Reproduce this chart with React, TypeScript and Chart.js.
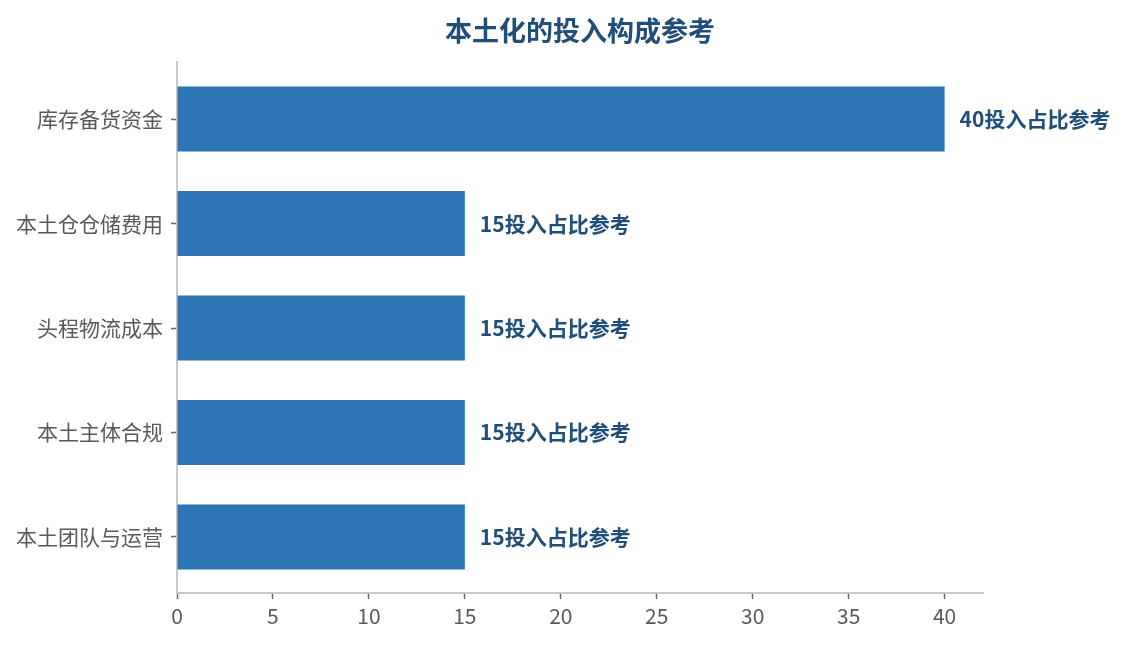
import { Chart, registerables, ChartItem, Plugin } from "chart.js";
import { useEffect, useRef } from "react";

Chart.register(...registerables);

const TITLE = "本土化的投入构成参考";
const categories = ["库存备货资金", "本土仓仓储费用", "头程物流成本", "本土主体合规", "本土团队与运营"];
const shares = [40, 15, 15, 15, 15];
const labelSuffix = "投入占比参考";

const FONT = "'Noto Sans CJK SC', 'Noto Sans', sans-serif";
const DARK_BLUE = "#1f4e79";

// title over the plot area + value labels after each bar
const labelsPlugin: Plugin<"bar"> = {
  id: "barLabels",
  afterLayout(chart) {
    // the reference leaves a few pixels between the axis ends and the outer bands
    const y: any = chart.scales.y;
    y._startPixel = y.top + 4.8;
    y._endPixel = y.bottom - 3.8;
    y._length = y._endPixel - y._startPixel;
  },
  afterDatasetsDraw(chart) {
    const ctx = chart.ctx;
    const meta = chart.getDatasetMeta(0);
    ctx.save();
    ctx.fillStyle = DARK_BLUE;
    ctx.font = `bold 21px ${FONT}`;
    ctx.textAlign = "left";
    ctx.textBaseline = "middle";
    meta.data.forEach((bar, i) => {
      ctx.fillText(`${shares[i]}${labelSuffix}`, bar.x + 15, bar.y);
    });

    const area = chart.chartArea;
    ctx.font = `bold 27px ${FONT}`;
    ctx.textAlign = "center";
    ctx.fillText(TITLE, (area.left + area.right) / 2, 31);
    ctx.restore();
  },
};

export default function App() {
  const canvasRef = useRef<HTMLCanvasElement>(null);

  useEffect(() => {
    document.body.style.margin = "0";
    const canvas = canvasRef.current;
    if (canvas == null) return;

    const chart = new Chart(canvas as ChartItem, {
      type: "bar",
      data: {
        labels: categories,
        datasets: [
          {
            data: shares,
            backgroundColor: "#2e75b6",
            barPercentage: 0.623,
            categoryPercentage: 1,
          },
        ],
      },
      options: {
        indexAxis: "y",
        animation: false,
        responsive: true,
        maintainAspectRatio: false,
        layout: { padding: { top: 62, right: 144, left: 0, bottom: 0 } },
        plugins: {
          legend: { display: false },
          title: { display: false },
          tooltip: { enabled: false },
        },
        scales: {
          x: {
            min: 0,
            max: 42,
            border: { display: true, color: "#c8c8c8", width: 2 },
            grid: {
              drawOnChartArea: false,
              drawTicks: true,
              tickLength: 6,
              tickColor: "#666666",
              tickWidth: 1.5,
            },
            ticks: {
              stepSize: 5,
              includeBounds: false,
              padding: 4,
              color: "#595959",
              font: { family: FONT, size: 21 },
            },
            afterFit(scale) {
              scale.height = 52;
            },
          },
          y: {
            border: { display: true, color: "#c8c8c8", width: 2 },
            grid: {
              offset: false,
              drawOnChartArea: false,
              drawTicks: true,
              tickLength: 6,
              tickColor: "#666666",
              tickWidth: 1.5,
            },
            ticks: {
              padding: 8,
              color: "#595959",
              font: { family: FONT, size: 21 },
            },
            afterFit(scale) {
              scale.width = 177;
            },
          },
        },
      },
      plugins: [labelsPlugin],
    });

    return () => {
      chart.destroy();
    };
  }, []);

  return (
    <div style={{ position: "relative", width: 1127, height: 645 }}>
      <canvas ref={canvasRef}></canvas>
    </div>
  );
}
